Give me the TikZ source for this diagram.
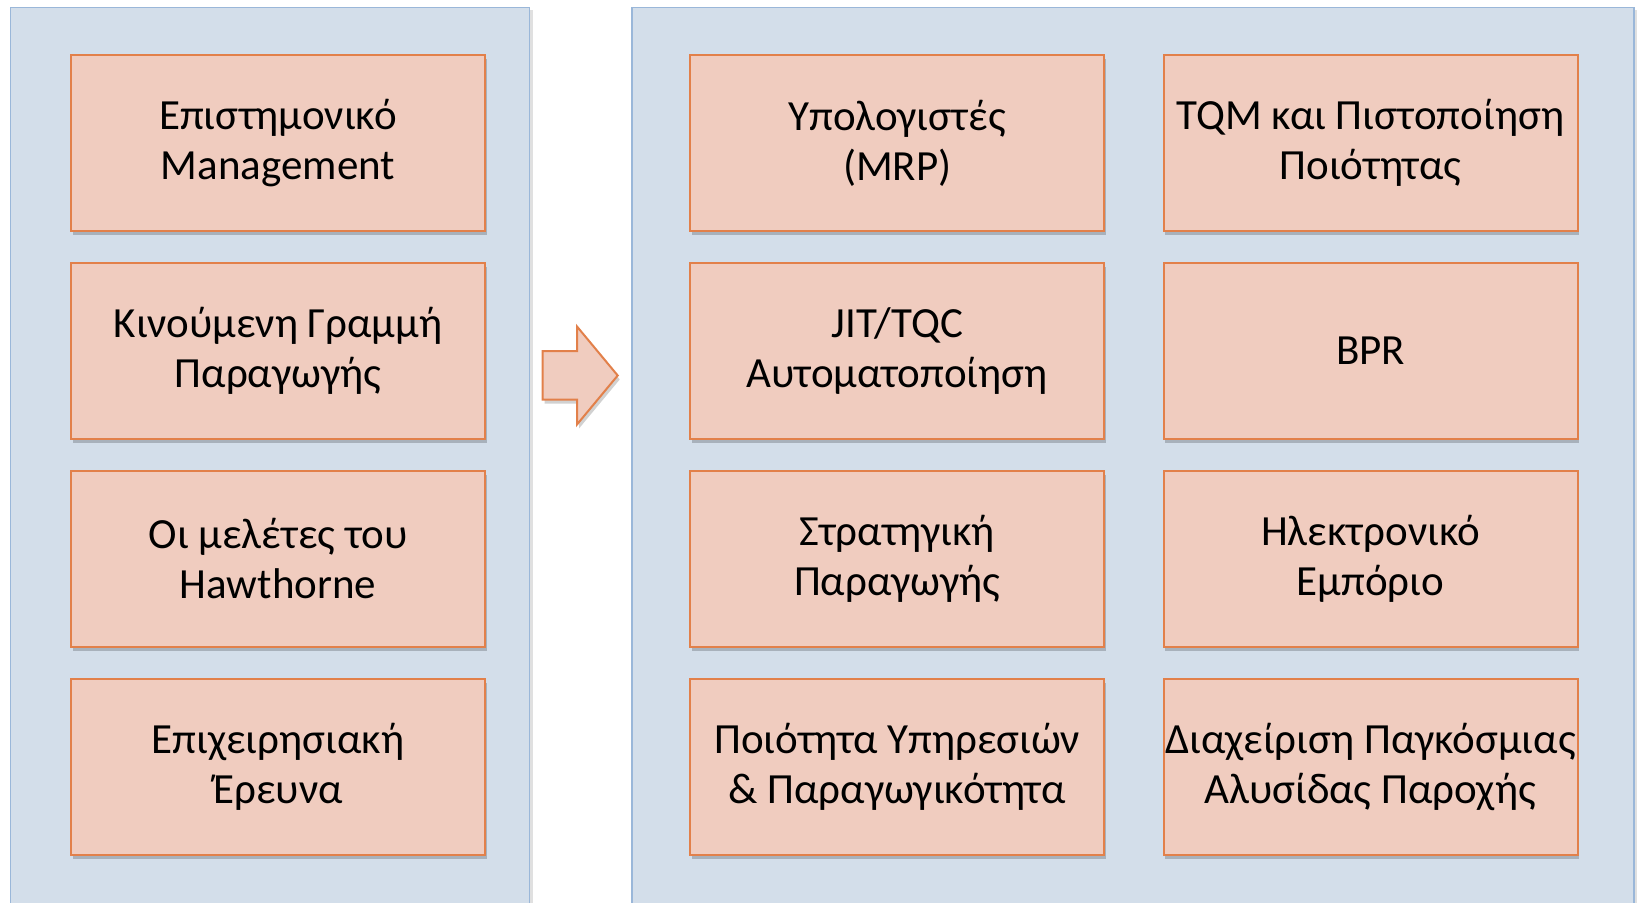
\documentclass[tikz,border=0pt]{standalone}
\usepackage{fontspec}
\setmainfont{Carlito}
\usetikzlibrary{shadows}
\definecolor{panelfill}{HTML}{D3DEEA}
\definecolor{paneldraw}{HTML}{9AB7D9}
\definecolor{boxfill}{HTML}{F0CCBF}
\definecolor{boxdraw}{HTML}{E2804A}
\tikzset{
  panel/.style={draw=paneldraw, line width=1.5pt, fill=panelfill,
    drop shadow={shadow xshift=3pt, shadow yshift=-2pt, opacity=0.12, fill=black}},
  itembox/.style={draw=boxdraw, line width=2pt, fill=boxfill,
    minimum width=414pt, minimum height=175.5pt, inner xsep=0pt,
    align=center, font=\fontsize{43}{50}\selectfont,
    drop shadow={shadow xshift=1.5pt, shadow yshift=-4pt, opacity=0.2, fill=black}},
  bigarrow/.style={draw=boxdraw, line width=2pt, fill=boxfill, line join=miter,
    drop shadow={shadow xshift=2pt, shadow yshift=-4pt, opacity=0.18, fill=black}}
}
\begin{document}
\begin{tikzpicture}[x=1pt, y=-1pt]
\useasboundingbox (0,0) rectangle (1638,902);
\fill[white] (0,0) rectangle (1638,902);
% panels
\path[panel] (10.5,7.5) rectangle (529.5,915);
\path[panel] (632,7.5) rectangle (1634,915);
% left column
\node[itembox] (a1) at (278,143.2) {Επιστημονικό\\Management};
\node[itembox] (a2) at (278,351.1) {Κινούμενη Γραμμή\\Παραγωγής};
\node[itembox] (a3) at (278,559) {Οι μελέτες του\\Hawthorne};
\node[itembox] (a4) at (278,766.9) {Επιχειρησιακή\\Έρευνα};
% middle column
\node[itembox] (b1) at (897.2,143.2) {Υπολογιστές\\(MRP)};
\node[itembox] (b2) at (897.2,351.1) {JIT/TQC\\Αυτοματοποίηση};
\node[itembox] (b3) at (897.2,559) {Στρατηγική\\Παραγωγής};
\node[itembox] (b4) at (897.2,766.9) {Ποιότητα Υπηρεσιών\\\& Παραγωγικότητα};
% right column
\node[itembox] (c1) at (1370.5,143.2) {TQM και Πιστοποίηση\\Ποιότητας};
\node[itembox] (c2) at (1370.5,351.1) {BPR};
\node[itembox] (c3) at (1370.5,559) {Ηλεκτρονικό\\Εμπόριο};
\node[itembox] (c4) at (1370.5,766.9) {Διαχείριση Παγκόσμιας\\Αλυσίδας Παροχής};
% arrow
\path[bigarrow] (542.7,351) -- (577,351) -- (577,326.5) -- (617.7,375.5)
  -- (577,424.5) -- (577,399.5) -- (542.7,399.5) -- cycle;
\end{tikzpicture}
\end{document}
